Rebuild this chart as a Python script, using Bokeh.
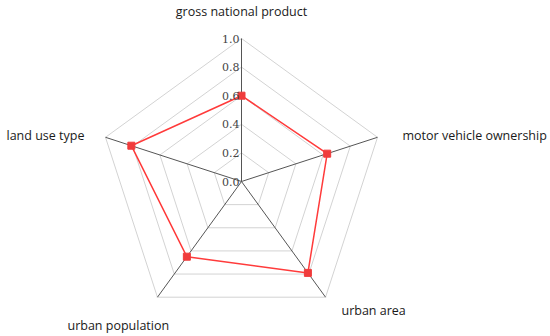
import math
from bokeh.plotting import figure
from bokeh.models import Range1d, ColumnDataSource
from bokeh.core.properties import value
from bokeh.embed import file_html
from bokeh.resources import INLINE

categories = ["gross national product", "motor vehicle ownership", "urban area",
              "urban population", "land use type"]
values = [0.60, 0.63, 0.79, 0.65, 0.81]
tick_values = [0.0, 0.2, 0.4, 0.6, 0.8, 1.0]
tick_labels = ["0.0", "0.2", "0.4", "0.6", "0.8", "1.0"]

R = 143.0  # pixel radius of 1.0
cx, cy = 241, 181  # center in figure pixels
W, H = 550, 336

p = figure(width=W, height=H, output_backend="svg", toolbar_location=None,
           x_range=Range1d(-cx / R, (W - cx) / R),
           y_range=Range1d(-(H - cy) / R, cy / R),
           min_border=0)
p.axis.visible = False
p.grid.visible = False
p.outline_line_color = None

n = len(categories)
angles = [math.pi / 2 - 2 * math.pi * i / n for i in range(n)]

# grid pentagons
for t in tick_values[1:]:
    xs = [t * math.cos(a) for a in angles] + [t * math.cos(angles[0])]
    ys = [t * math.sin(a) for a in angles] + [t * math.sin(angles[0])]
    p.line(xs, ys, line_color="#d3d3d3", line_width=1)

# spokes
for a in angles:
    p.line([0, math.cos(a)], [0, math.sin(a)], line_color="#555555", line_width=1)

# data polygon
dx = [v * math.cos(a) for v, a in zip(values, angles)]
dy = [v * math.sin(a) for v, a in zip(values, angles)]
p.line(dx + [dx[0]], dy + [dy[0]], line_color="#ff3b3b", line_width=1.5)
p.scatter(dx, dy, marker="square", size=7, fill_color="#f03c3c", line_color="#f03c3c")

# tick labels
src = ColumnDataSource(dict(x=[-2 / R] * len(tick_values), y=tick_values, t=tick_labels))
p.text(x="x", y="y", text="t", source=src, text_align="right", text_baseline="middle",
       text_font=value("DejaVu Serif"), text_font_size="11px", text_color="#444444")

# category labels (pixel offsets from center)
lab_x = [0, 402 - 241, 341 - 241, 67 - 241, 6 - 241]
lab_y = [181 - 11, 181 - 135, 181 - 310, 181 - 325, 181 - 135]
aligns = ["center", "left", "left", "left", "left"]
lsrc = ColumnDataSource(dict(x=[v / R for v in lab_x], y=[v / R for v in lab_y],
                             t=categories, a=aligns))
p.text(x="x", y="y", text="t", source=lsrc, text_align="a", text_baseline="middle",
       text_font=value("Open Sans"), text_font_size="12.5px", text_color="#1a1a1a")

open("out.html", "w").write(file_html(p, INLINE))
